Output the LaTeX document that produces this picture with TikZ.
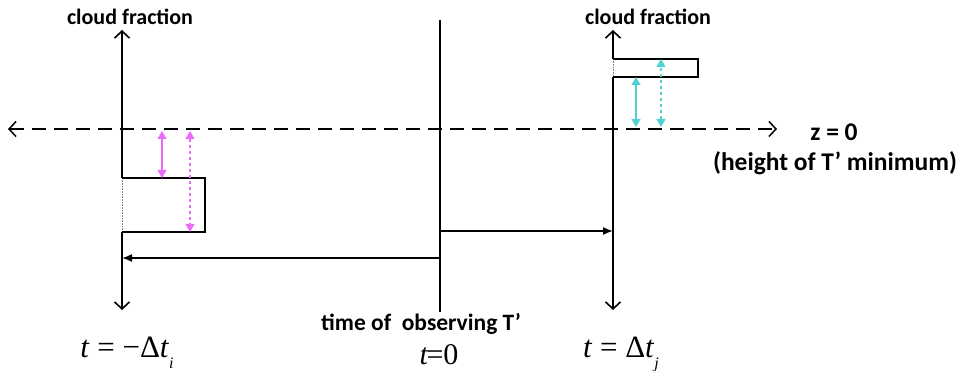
\documentclass[tikz,border=0pt]{standalone}
\usepackage{fontspec}
\setmainfont{Liberation Serif}
\newfontfamily\lblfont{Carlito}
\usetikzlibrary{arrows.meta,positioning}

\definecolor{pinkish}{RGB}{236,108,250}
\definecolor{tealish}{RGB}{82,208,210}

\tikzset{
  axisline/.style={line width=1.6pt},
  barbtip/.style={-{Straight Barb[length=7pt,width=15pt]}},
  zline/.style={line width=1.5pt,dash pattern=on 14pt off 8pt,{Straight Barb[length=7pt,width=15pt]}-{Straight Barb[length=7pt,width=15pt]}},
  gap/.style={line width=1.2pt,{Triangle[length=8pt,width=9pt]}-{Triangle[length=8pt,width=9pt]}},
  timearrow/.style={line width=1.6pt,-{Latex[length=10pt,width=8pt]}},
  lbl/.style={font=\lblfont\bfseries\fontsize{22}{24}\selectfont},
  biglbl/.style={font=\lblfont\bfseries\fontsize{25.5}{28}\selectfont},
  mathlbl/.style={font=\fontsize{31}{33}\selectfont,anchor=base,inner sep=0pt}
}
\newcommand{\sub}[1]{\raisebox{-11pt}{\fontsize{16}{16}\selectfont\itshape #1}}

\begin{document}
\begin{tikzpicture}[x=1pt,y=-1pt]
\useasboundingbox (0,0) rectangle (963,371);
% left axis and cloud layer
\coordinate (lt) at (122,30);
\coordinate (lb) at (122,310);
\coordinate (lc1) at (122,178);
\coordinate (lc2) at (205,178);
\coordinate (lc3) at (205,232);
\coordinate (lc4) at (122,232);
\draw[axisline,barbtip] (lc1) -- (lt);
\draw[axisline,barbtip] (lc4) -- (lb);
\draw[densely dotted,line width=.6pt,gray] (lc1) -- (lc4);
\draw[axisline] (lc1) -- (lc2) -- (lc3) -- (lc4);
% right axis and cloud layer
\coordinate (rt) at (613,30);
\coordinate (rb) at (613,310);
\coordinate (rc1) at (613,59);
\coordinate (rc2) at (698,59);
\coordinate (rc3) at (698,77);
\coordinate (rc4) at (613,77);
\draw[axisline,barbtip] (rc1) -- (rt);
\draw[axisline,barbtip] (rc4) -- (rb);
\draw[densely dotted,line width=.6pt,gray] (rc1) -- (rc4);
\draw[axisline] (rc1) -- (rc2) -- (rc3) -- (rc4);
% z = 0 level
\coordinate (zl) at (8,129);
\coordinate (zr) at (777,129);
\draw[zline] (zl) -- (zr);
% time of observation
\coordinate (ot) at (440,20);
\coordinate (ob) at (440,312);
\draw[line width=1.3pt] (ot) -- (ob);
\coordinate (fw) at (440,231);
\coordinate (bw) at (440,258);
\draw[timearrow] (fw) -- (fw -| rt);
\draw[timearrow] (bw) -- (bw -| lt);
% distances to z = 0
\coordinate (m1) at (162,131);
\coordinate (m2) at (190,131);
\draw[gap,pinkish] (m1) -- (m1 |- lc1);
\draw[gap,pinkish,dashed] (m2) -- (m2 |- lc3);
\coordinate (c1) at (636,127);
\coordinate (c2) at (661,127);
\draw[gap,tealish] (c1) -- (c1 |- rc4);
\draw[gap,tealish,dashed] (c2) -- (c2 |- rc1);
% labels
\node[lbl] (cfl) at (130,17) {cloud fraction};
\node[lbl] (cfr) at (648,17) {cloud fraction};
\node[biglbl] (zz) at (834,132) {z = 0};
\node[biglbl] (zh) at (835,163) {(height of T’ minimum)};
\node[lbl,inner sep=0pt,font=\lblfont\bfseries\fontsize{23.5}{25}\selectfont] (obs) at (421,324) {time of~~observing T’};
\node[mathlbl,font=\fontsize{30}{32}\selectfont] (tz) at (439,364) {\textit{t}\kern-2pt=0};
\node[mathlbl] (tl) at (127,357) {\textit{t} = −Δ\textit{t}\sub{i}};
\node[mathlbl] (tr) at (621,357) {\textit{t} = Δ\textit{t}\sub{j}};
\end{tikzpicture}
\end{document}
